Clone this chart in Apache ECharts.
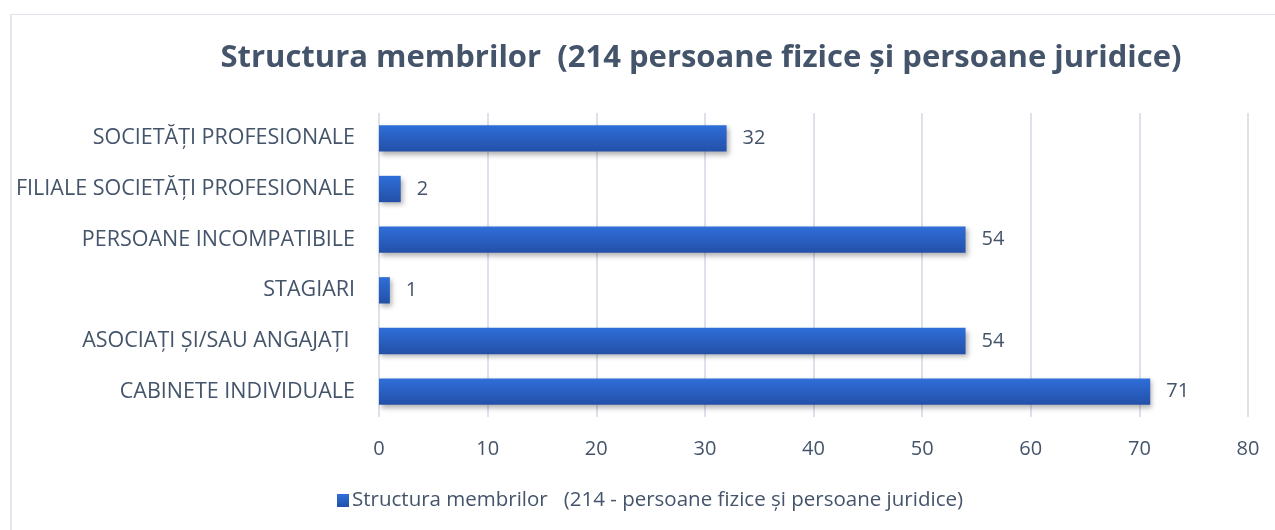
<!DOCTYPE html>
<html>
<head>
<meta charset="utf-8">
<style>
  html, body { margin: 0; padding: 0; background: #fff; }
  #frame { position: absolute; left: 10px; top: 14px; width: 1300px; height: 560px; border-top: 1px solid #dfe3ea; border-left: 2px solid #e3e7ee; }
  #echart { position: absolute; left: 0; top: 0; width: 1275px; height: 530px; }
</style>
<script src="https://cdn.jsdelivr.net/npm/echarts@6/dist/echarts.min.js"></script>
</head>
<body>
<div id="frame"></div>
<div id="echart"></div>
<script>
// categorii (de jos în sus, ca în grafic)
var categories = ['CABINETE INDIVIDUALE', 'ASOCIAȚI ȘI/SAU ANGAJAȚI ', 'STAGIARI',
    'PERSOANE INCOMPATIBILE', 'FILIALE SOCIETĂȚI PROFESIONALE', 'SOCIETĂȚI PROFESIONALE'];
var values = [71, 54, 1, 54, 2, 32];
var seriesName = 'Structura membrilor   (214 - persoane fizice și persoane juridice)';
var axisMax = 80;
var axisStep = 10;

var textColor = '#44546a';
var myChart = echarts.init(document.getElementById('echart'));
var option = {
    title: {
        text: 'Structura membrilor  (214 persoane fizice și persoane juridice)',
        left: 696,
        textAlign: 'center',
        top: 38,
        textStyle: {
            fontFamily: 'Open Sans',
            fontWeight: 'bold',
            fontSize: 31,
            color: textColor
        }
    },
    legend: {
        data: [seriesName],
        top: 485,
        left: 332,
        icon: 'rect',
        itemWidth: 12,
        itemHeight: 13,
        itemGap: 6,
        textStyle: { fontFamily: 'Open Sans', fontSize: 20.5, color: textColor, padding: [0, 0, 0, -2] }
    },
    grid: { left: 379, right: 27, top: 113, bottom: 113 },
    xAxis: {
        type: 'value',
        min: 0,
        max: axisMax,
        interval: axisStep,
        axisLine: { show: false },
        axisTick: { show: false },
        axisLabel: { fontFamily: 'Open Sans', fontSize: 20, color: textColor, margin: 22 },
        splitLine: { lineStyle: { color: '#dde2ea', width: 2 } }
    },
    yAxis: {
        type: 'category',
        data: categories,
        axisLine: { show: false },
        axisTick: { show: false },
        axisLabel: { fontFamily: 'Open Sans', fontSize: 21.5, color: textColor, margin: 24 }
    },
    series: [{
        name: seriesName,
        type: 'bar',
        data: values,
        barCategoryGap: '48%',
        itemStyle: {
            color: new echarts.graphic.LinearGradient(0, 0, 0, 1, [
                { offset: 0, color: '#2f6ed9' },
                { offset: 1, color: '#2350a8' }
            ]),
            shadowColor: 'rgba(0,0,0,0.3)',
            shadowBlur: 5,
            shadowOffsetX: 2,
            shadowOffsetY: 3
        },
        label: {
            show: true,
            position: 'right',
            distance: 16,
            fontFamily: 'Open Sans',
            fontSize: 20,
            color: textColor
        }
    }]
};
myChart.setOption(option);
</script>
</body>
</html>
